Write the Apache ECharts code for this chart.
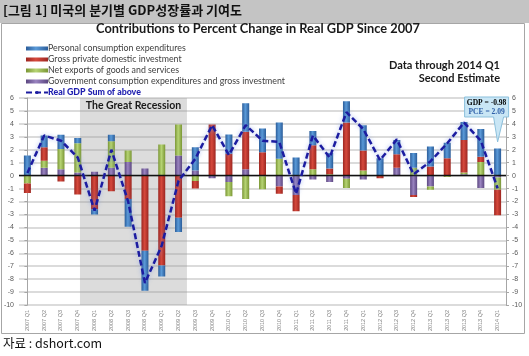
<!DOCTYPE html>
<html>
<head>
<meta charset="utf-8">
<script src="https://cdn.jsdelivr.net/npm/echarts@6/dist/echarts.min.js"></script>
<style>
html,body{margin:0;padding:0;background:#fff;}
#c{width:529px;height:356px;}
</style>
</head>
<body>
<div id="c"></div>
<script>
// ---- data ----
const categories = ['2007 Q1','2007 Q2','2007 Q3','2007 Q4','2008 Q1','2008 Q2','2008 Q3','2008 Q4','2009 Q1','2009 Q2','2009 Q3','2009 Q4','2010 Q1','2010 Q2','2010 Q3','2010 Q4','2011 Q1','2011 Q2','2011 Q3','2011 Q4','2012 Q1','2012 Q2','2012 Q3','2012 Q4','2013 Q1','2013 Q2','2013 Q3','2013 Q4','2014 Q1'];
const pce = [1.55, 0.9, 1.1, 0.4, -0.4, 0.5, -2.15, -3.1, -0.85, -1.1, 1.8, 0, 1.47, 2.2, 1.85, 2.8, 1.4, 1.1, 1.2, 1.65, 1.95, 1.35, 1.1, 1.15, 1.55, 1.2, 1.4, 2.15, 2.09];
const investment = [-0.75, 1.05, -0.45, -1.45, -2.6, -1.2, -1.8, -5.8, -6.95, -3.25, -0.58, 3.95, 1.7, 2.9, 1.8, -0.55, -1.25, 1.85, 0.45, 4.1, 1.55, -0.2, 1.05, -0.15, 0.7, 1.35, 2.5, 0.4, -1.97];
const netExports = [-0.6, 0.55, 1.55, 2.25, 0, 2.05, 0.9, 0, 2.4, 2.4, -0.42, 0, -1.1, -1.8, -1.0, 1.3, 0, 0.5, 0.1, -0.7, 0.4, 0, 0, 0.6, -0.25, -0.1, 0.15, 1.05, -0.95];
const government = [0, 0.6, 0.5, 0.25, 0.3, 0.6, 1.05, 0.55, 0, 1.55, 0.4, -0.2, -0.5, 0.5, -0.05, -0.85, -1.5, -0.3, -0.5, -0.25, -0.3, 0, 0.6, -1.5, -0.85, 0, 0.1, -0.95, -0.15];
const realGDP = [0.2, 3.1, 2.7, 1.4, -2.7, 2.0, -2.0, -8.3, -5.4, -0.4, 1.3, 3.9, 1.6, 3.9, 2.7, 2.6, -1.4, 3.1, 1.4, 4.9, 3.6, 1.2, 2.8, 0.1, 1.1, 2.5, 4.1, 2.7, -0.98];
const yTicks = [-10, 6, 1]; // min, max, interval
const recession = [3.13, 9.5]; // on a position scale where category i sits at i
const seriesNames = ['Personal consumption expenditures','Gross private domestic investment','Net exports of goods and services','Government consumption expenditures and gross investment','Real GDP Sum of above'];

// ---- chart ----
const chart = echarts.init(document.getElementById('c'));
function cyl(dark, light){
  return new echarts.graphic.LinearGradient(0,0,1,0,[{offset:0,color:dark},{offset:0.45,color:light},{offset:1,color:dark}]);
}
const lbl = {fontSize:7, color:'#595959', fontFamily:'Liberation Sans'};
const barCommon = {type:'bar', stack:'c', barWidth:7, xAxisIndex:0, yAxisIndex:0};

const option = {
  animation:false,
  backgroundColor:'#fff',
  legend:{
    left:20, top:39, orient:'vertical', itemGap:2, itemWidth:22, itemHeight:4,
    textStyle:{fontSize:8.8, color:'#404040', fontFamily:'Lato', padding:[0,0,0,-5]},
    data:[
      {name:seriesNames[0], icon:'rect'},
      {name:seriesNames[1], icon:'rect'},
      {name:seriesNames[2], icon:'rect'},
      {name:seriesNames[3], icon:'rect'},
      {name:seriesNames[4], textStyle:{color:'#1f1fb0', fontWeight:900}}
    ]
  },
  grid:{left:19, right:23, top:98, bottom:51},
  xAxis:[
    {type:'category', data:categories, gridIndex:0,
     axisLine:{show:false}, axisTick:{show:false},
     axisLabel:{rotate:90, interval:0, fontSize:5.5, color:'#7f7f7f', margin:5, fontFamily:'Liberation Sans'}},
    {type:'value', min:-0.5, max:categories.length-0.5, show:false, gridIndex:0}
  ],
  yAxis:[
    {type:'value', min:yTicks[0], max:yTicks[1], interval:yTicks[2], position:'left',
     axisLine:{show:true, lineStyle:{color:'#a6a6a6'}}, axisTick:{show:true, length:3, lineStyle:{color:'#a6a6a6'}},
     axisLabel:Object.assign({margin:5}, lbl),
     splitLine:{show:true, lineStyle:{color:'#cfcfcf', width:1.5}}},
    {type:'value', min:yTicks[0], max:yTicks[1], interval:yTicks[2], position:'right',
     axisLine:{show:true, lineStyle:{color:'#a6a6a6'}}, axisTick:{show:true, length:3, lineStyle:{color:'#a6a6a6'}},
     axisLabel:Object.assign({margin:6}, lbl),
     splitLine:{show:false}}
  ],
  series:[
    {type:'line', name:'recession', xAxisIndex:1, yAxisIndex:0, data:[[recession[0],0],[recession[1],0]],
     symbol:'none', lineStyle:{opacity:0}, silent:true, z:1,
     markArea:{silent:true, itemStyle:{color:'rgba(150,150,150,0.33)'},
       label:{show:true, position:'insideTop', distance:2, formatter:'The Great Recession', fontSize:10.5, fontWeight:'bold', color:'#1a1a1a', fontFamily:'Lato'},
       data:[[{xAxis:recession[0]},{xAxis:recession[1]}]]}},
    Object.assign({name:seriesNames[3], data:government, itemStyle:{color:cyl('#5b4680','#9a84c0')}, z:3}, barCommon),
    Object.assign({name:seriesNames[2], data:netExports, itemStyle:{color:cyl('#7a9634','#b6d474')}, z:3}, barCommon),
    Object.assign({name:seriesNames[1], data:investment, itemStyle:{color:cyl('#9c2620','#d6493c')}, z:3}, barCommon),
    Object.assign({name:seriesNames[0], data:pce, itemStyle:{color:cyl('#2a5c99','#5a9ad8')}, z:3,
      markLine:{silent:true, symbol:['none','none'], label:{show:false}, lineStyle:{color:'#111', width:1.3, type:'solid'}, data:[{yAxis:0}]}}, barCommon),
    {type:'line', name:seriesNames[4], data:realGDP, xAxisIndex:0, yAxisIndex:0, symbol:'none', z:5,
     itemStyle:{color:'#1c1ca0'},
     lineStyle:{color:'#1c1ca0', width:2.5, type:[6,3], shadowBlur:4, shadowColor:'rgba(120,150,230,0.7)'}}
  ],
  graphic:[
    {id:'band', type:'rect', z:-10, silent:true, shape:{x:0,y:0,width:529,height:23}, style:{fill:'#c4c4c4'}},
    {id:'frame', type:'rect', z:-10, silent:true, shape:{x:1.5,y:23.5,width:523,height:310}, style:{fill:null, stroke:'#a6a6a6', lineWidth:1}},
    {id:'head', type:'text', x:3, y:4, silent:true, style:{text:'[그림 1] 미국의 분기별 GDP성장률과 기여도', font:'bold 13px "Noto Sans CJK KR"', fill:'#111'}},
    {id:'title', type:'text', x:258, y:22.5, silent:true, style:{text:'Contributions to Percent Change in Real GDP Since 2007', textAlign:'center', font:'bold 12.8px Lato', fill:'#1a1a1a'}},
    {id:'dt1', type:'text', x:500, y:60, silent:true, style:{text:'Data through 2014 Q1', textAlign:'right', font:'bold 11px Lato', fill:'#1a1a1a'}},
    {id:'dt2', type:'text', x:500, y:73, silent:true, style:{text:'Second Estimate', textAlign:'right', font:'bold 11px Lato', fill:'#1a1a1a'}},
    {id:'src', type:'text', x:3, y:337, silent:true, style:{text:'자료 : dshort.com', font:'12.5px "Noto Sans CJK KR"', fill:'#111'}}
  ]
};
chart.setOption(option);

// callout anchored to the last quarter
const tip = chart.convertToPixel({xAxisIndex:0, yAxisIndex:0}, [categories[categories.length-1], 2.6]);
const bx = tip[0]-33, by = tip[1]-45, bw = 44, bh = 20;
chart.setOption({graphic:[
  {id:'callout', type:'polygon', z:20, silent:true,
   shape:{points:[[bx,by],[bx+bw,by],[bx+bw,by+bh],[tip[0]+6,by+bh],[tip[0],tip[1]],[tip[0]-4,by+bh],[bx,by+bh]]},
   style:{fill:'#c9e6f5', stroke:'#8cc0dc', lineWidth:1}},
  {id:'cl1', type:'text', z:21, silent:true, x:bx+bw/2, y:by+2.5,
   style:{text:'{b|GDP = }{r|-0.98}', textAlign:'center', rich:{b:{fontSize:7.5, fontWeight:'bold', color:'#2e5fa8', fontFamily:'Liberation Serif'}, r:{fontSize:7.5, fontWeight:'bold', color:'#c0392b', fontFamily:'Liberation Serif'}}}},
  {id:'cl2', type:'text', z:21, silent:true, x:bx+bw/2, y:by+11,
   style:{text:'PCE = 2.09', textAlign:'center', font:'bold 7.5px "Liberation Serif"', fill:'#2e5fa8'}}
]});
</script>
</body>
</html>
